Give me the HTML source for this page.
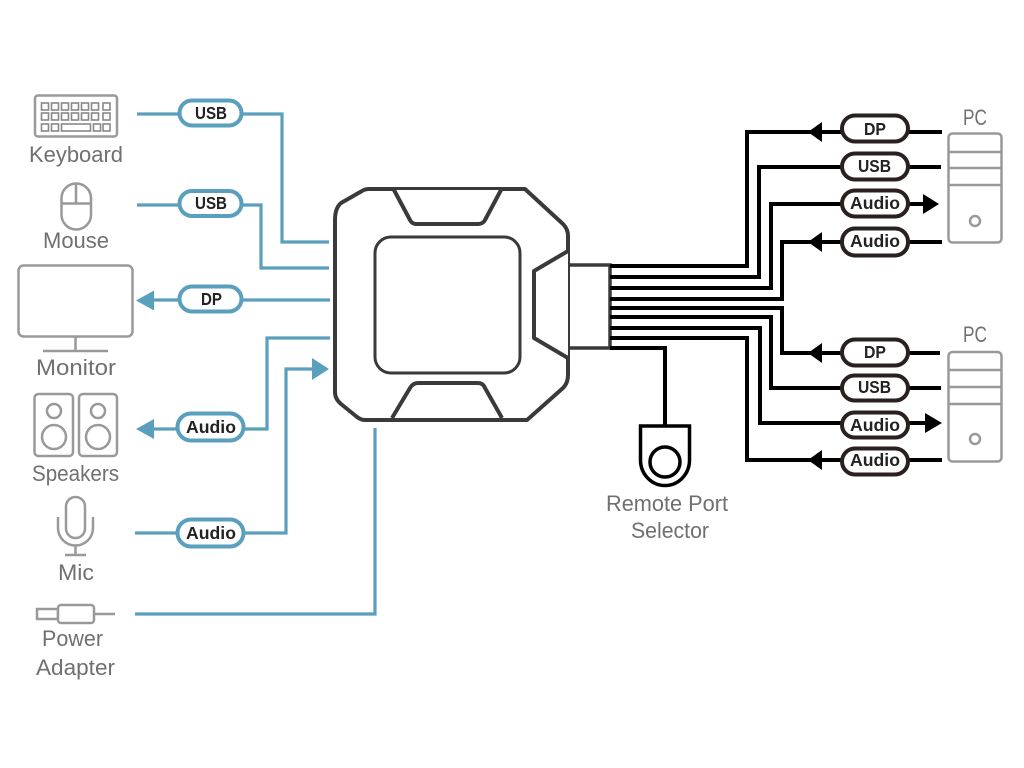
<!DOCTYPE html>
<html>
<head>
<meta charset="utf-8">
<style>
html,body{margin:0;padding:0;background:#fff;}
svg{display:block;}
.lbl{font-family:"Liberation Sans",sans-serif;font-size:22px;fill:#707070;}
.pt{font-family:"Liberation Sans",sans-serif;font-size:17.5px;font-weight:bold;fill:#222;text-anchor:start;}
.blue{fill:none;stroke:#5a9fbd;stroke-width:3.2;}
.blk{fill:none;stroke:#000;stroke-width:4;}
.pb{fill:#fff;stroke:#5a9fbd;stroke-width:4;}
.pk{fill:#fff;stroke:#2a2020;stroke-width:4;}
.ic{fill:none;stroke:#999;stroke-width:2.5;}
.dev{fill:#fff;stroke:#3a3a3a;stroke-width:4;stroke-linejoin:round;}
</style>
</head>
<body>
<svg width="1024" height="768" viewBox="0 0 1024 768" xmlns="http://www.w3.org/2000/svg">
<rect width="1024" height="768" fill="#fff"/>

<!-- left wires -->
<path class="blue" d="M137 114H282V242H329"/>
<path class="blue" d="M137 205H261V268H329"/>
<path class="blue" d="M150 300H330"/>
<path class="blue" d="M150 429H267V338H330"/>
<path class="blue" d="M135 533H286V369H315"/>
<path class="blue" d="M135 614H375V428"/>
<polygon points="136,300.500 154,290.500 154,310.500" fill="#5a9fbd"/>
<polygon points="136,429 154,419 154,439" fill="#5a9fbd"/>
<polygon points="329,369 312,358 312,380" fill="#5a9fbd"/>

<!-- left pills -->
<rect class="pb" x="179.500" y="100.500" width="62" height="25" rx="12.500"/>
<rect class="pb" x="179.500" y="191" width="62" height="25" rx="12.500"/>
<rect class="pb" x="179.500" y="286.500" width="62" height="25" rx="12.500"/>
<rect class="pb" x="177.500" y="413.500" width="66" height="27" rx="13.500"/>
<rect class="pb" x="177.500" y="519.500" width="66" height="27" rx="13.500"/>
<text class="pt" x="195" y="119" textLength="32" lengthAdjust="spacingAndGlyphs">USB</text>
<text class="pt" x="195" y="209" textLength="32" lengthAdjust="spacingAndGlyphs">USB</text>
<text class="pt" x="201" y="305" textLength="21" lengthAdjust="spacingAndGlyphs">DP</text>
<text class="pt" x="186" y="433" textLength="50" lengthAdjust="spacingAndGlyphs">Audio</text>
<text class="pt" x="186" y="539" textLength="50" lengthAdjust="spacingAndGlyphs">Audio</text>

<!-- connector -->
<path d="M568 265H610V348H568" fill="#fff" stroke="#3a3a3a" stroke-width="3.500"/>

<!-- device -->
<path class="dev" d="M335 220 Q335 208 341 203 L362 191 Q365 189 369 189 H525 L563 224 Q568 229 568 236 V375 Q568 383 563 388 L527 420 H365 Q361 420 357 417 L341 404 Q335 399 335 392 Z"/>
<path class="dev" d="M568 251 L534 271 V338 L568 358"/>
<path class="dev" d="M394 190 L410 220 Q412 224 416 224 H478 Q483 224 485 220 L501 190" fill="none"/>
<path class="dev" d="M392 418 L410 388 Q413 383 418 383 H478 Q483 383 485 388 L502 418" fill="none"/>
<rect x="375" y="237" width="145" height="136" rx="16" fill="#fff" stroke="#3a3a3a" stroke-width="3"/>

<!-- right wires -->
<path class="blk" d="M610 266H747V132H942"/>
<path class="blk" d="M610 277H759V167H941"/>
<path class="blk" d="M610 288H771V204H925"/>
<path class="blk" d="M610 299H782V242H942"/>
<path class="blk" d="M610 308H782V353H940"/>
<path class="blk" d="M610 317H771V388H941"/>
<path class="blk" d="M610 328H760V423H930"/>
<path class="blk" d="M610 338H747V460H942"/>
<path class="blk" d="M610 348H665V426"/>
<polygon points="808,132 822,122 822,142" fill="#000"/>
<polygon points="808,242 822,232 822,252" fill="#000"/>
<polygon points="939,204 923,194 923,214" fill="#000"/>
<polygon points="808,353 822,343 822,363" fill="#000"/>
<polygon points="942,423 925,413 925,433" fill="#000"/>
<polygon points="808,460 822,450 822,470" fill="#000"/>

<!-- right pills -->
<rect class="pk" x="842" y="115.500" width="66" height="26" rx="13"/>
<rect class="pk" x="842" y="153.500" width="66" height="26" rx="13"/>
<rect class="pk" x="842" y="190.500" width="66" height="26" rx="13"/>
<rect class="pk" x="842" y="228.500" width="66" height="27" rx="13"/>
<rect class="pk" x="842" y="339.500" width="66" height="26" rx="13"/>
<rect class="pk" x="842" y="375.500" width="66" height="25" rx="12.500"/>
<rect class="pk" x="842" y="412.500" width="66" height="25" rx="12.500"/>
<rect class="pk" x="842" y="448.500" width="66" height="26" rx="13"/>
<text class="pt" x="864" y="135" textLength="22" lengthAdjust="spacingAndGlyphs">DP</text>
<text class="pt" x="858" y="172" textLength="33" lengthAdjust="spacingAndGlyphs">USB</text>
<text class="pt" x="850" y="209" textLength="50" lengthAdjust="spacingAndGlyphs">Audio</text>
<text class="pt" x="850" y="247" textLength="50" lengthAdjust="spacingAndGlyphs">Audio</text>
<text class="pt" x="864" y="358" textLength="22" lengthAdjust="spacingAndGlyphs">DP</text>
<text class="pt" x="858" y="393" textLength="33" lengthAdjust="spacingAndGlyphs">USB</text>
<text class="pt" x="850" y="431" textLength="50" lengthAdjust="spacingAndGlyphs">Audio</text>
<text class="pt" x="850" y="466" textLength="50" lengthAdjust="spacingAndGlyphs">Audio</text>

<!-- remote selector -->
<path d="M640.500 426H689.500V460A24.500 25.500 0 0 1 640.500 460Z" fill="#fff" stroke="#000" stroke-width="3.500"/>
<circle cx="665" cy="462" r="15" fill="#fff" stroke="#000" stroke-width="3.500"/>

<!-- keyboard -->
<rect class="ic" x="35" y="95.500" width="82" height="41" rx="3"/>
<g fill="none" stroke="#888" stroke-width="1.600">
<rect x="41.500" y="103" width="7" height="7"/><rect x="51.500" y="103" width="7" height="7"/><rect x="61.500" y="103" width="7" height="7"/><rect x="71.500" y="103" width="7" height="7"/><rect x="81.500" y="103" width="7" height="7"/><rect x="91.500" y="103" width="7" height="7"/><rect x="103" y="103" width="7" height="7"/>
<rect x="41.500" y="113" width="7" height="7"/><rect x="51.500" y="113" width="7" height="7"/><rect x="61.500" y="113" width="7" height="7"/><rect x="71.500" y="113" width="7" height="7"/><rect x="81.500" y="113" width="7" height="7"/><rect x="91.500" y="113" width="7" height="7"/><rect x="103" y="113" width="7" height="7"/>
<rect x="41.500" y="124" width="7" height="7"/><rect x="51.500" y="124" width="7" height="7"/><rect x="61.500" y="124" width="29" height="7"/><rect x="93.500" y="124" width="7" height="7"/><rect x="103" y="124" width="7" height="7"/>
</g>
<text class="lbl" x="29" y="162" textLength="94" lengthAdjust="spacingAndGlyphs">Keyboard</text>

<!-- mouse -->
<rect class="ic" x="61.500" y="183.500" width="29.500" height="46" rx="14.750"/>
<path class="ic" d="M61.500 203.500H91M76 183.500V203.500"/>
<text class="lbl" x="43" y="248" textLength="66" lengthAdjust="spacingAndGlyphs">Mouse</text>

<!-- monitor -->
<rect class="ic" x="18.500" y="265.500" width="114" height="71" rx="5"/>
<path class="ic" d="M75.500 337V351M43 351H108"/>
<text class="lbl" x="36" y="375" textLength="80" lengthAdjust="spacingAndGlyphs">Monitor</text>

<!-- speakers -->
<rect class="ic" x="34.500" y="394" width="38.500" height="62" rx="4"/>
<rect class="ic" x="79" y="394" width="38" height="62" rx="4"/>
<circle class="ic" cx="54" cy="411" r="7"/><circle class="ic" cx="54" cy="437" r="12"/>
<circle class="ic" cx="98" cy="411" r="7"/><circle class="ic" cx="98" cy="437" r="12"/>
<text class="lbl" x="32" y="481" textLength="87" lengthAdjust="spacingAndGlyphs">Speakers</text>

<!-- mic -->
<rect class="ic" x="66" y="497" width="19" height="41" rx="9.500"/>
<path class="ic" d="M58 517V528A17.500 17.500 0 0 0 93 528V517M75.500 546V555M65 555H86"/>
<text class="lbl" x="58" y="580" textLength="36" lengthAdjust="spacingAndGlyphs">Mic</text>

<!-- power -->
<rect class="ic" x="37" y="609" width="21" height="10"/>
<rect x="58" y="605" width="36" height="18" rx="3" fill="#fff" stroke="#999" stroke-width="2.500"/>
<path class="ic" d="M94 614H115"/>
<text class="lbl" x="42" y="646" textLength="61" lengthAdjust="spacingAndGlyphs">Power</text>
<text class="lbl" x="36" y="675" textLength="79" lengthAdjust="spacingAndGlyphs">Adapter</text>

<!-- PCs -->
<rect class="ic" x="948.500" y="133.500" width="53" height="109" rx="4"/>
<path class="ic" d="M948 152H1002M948 168H1002M948 185H1002"/>
<circle class="ic" cx="975" cy="221" r="5"/>
<text class="lbl" x="963" y="125" textLength="24" lengthAdjust="spacingAndGlyphs">PC</text>

<rect class="ic" x="948.500" y="352" width="53" height="109.500" rx="4"/>
<path class="ic" d="M948 370H1002M948 387H1002M948 404H1002"/>
<circle class="ic" cx="975" cy="439" r="5"/>
<text class="lbl" x="963" y="342" textLength="24" lengthAdjust="spacingAndGlyphs">PC</text>

<text class="lbl" x="606" y="511" textLength="122" lengthAdjust="spacingAndGlyphs">Remote Port</text>
<text class="lbl" x="631" y="538" textLength="78" lengthAdjust="spacingAndGlyphs">Selector</text>
</svg>
</body>
</html>
